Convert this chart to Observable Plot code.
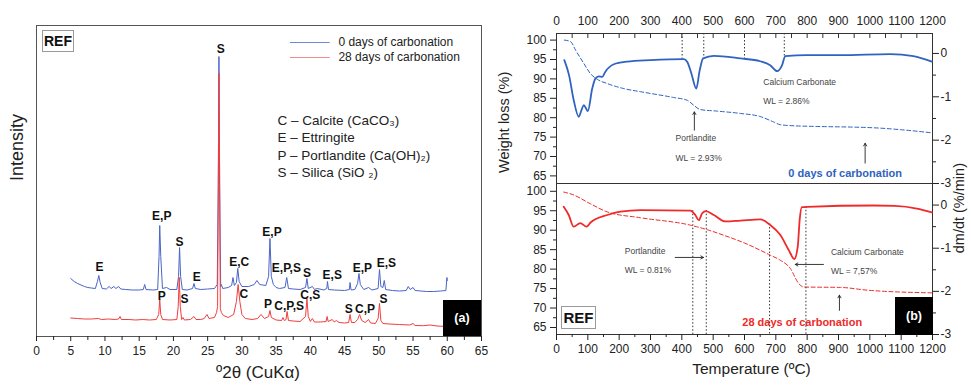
<!DOCTYPE html>
<html><head><meta charset="utf-8">
<script src="https://cdn.jsdelivr.net/npm/d3@7"></script>
<script src="https://cdn.jsdelivr.net/npm/@observablehq/plot@0.6"></script>
<style>
body{margin:0;background:#fff;font-family:"Liberation Sans",Arial,sans-serif;}
#wrap{position:relative;width:971px;height:387px;overflow:hidden;background:#fff}
#wrap svg{position:absolute;overflow:visible}
.ref{position:absolute;border:1.3px solid #9a9a9a;background:#fff;font-weight:bold;color:#111;display:flex;align-items:center;justify-content:center;box-sizing:border-box}
.tag{position:absolute;background:#000;color:#fff;font-weight:bold;font-size:12.5px;display:flex;align-items:center;justify-content:center}
</style></head><body><div id="wrap"></div>
<script>
// ---------- XRD (panel a) ----------
const xrd0 = [[5,58],[5.5,55],[6,53],[6.5,51.5],[7,50],[7.5,49],[8,48.5],[8.6,48],[8.9,55],[9.1,61],[9.3,54],[9.6,48],[10.2,47.5],[10.6,50],[10.9,48],[11.3,50],[11.6,48],[12,50],[12.3,47.5],[13,47],[14,46.5],[15,46.5],[15.6,47],[15.8,52],[16,47],[17,46.5],[17.7,47],[17.9,80],[18,111],[18.15,80],[18.4,48],[19,49],[19.5,47],[20.5,47],[20.75,60],[20.9,89],[21.05,60],[21.3,47],[22,46.5],[22.8,48],[23,53],[23.2,48],[24,47],[25,47.5],[26,48],[26.4,52],[26.55,150],[26.65,280],[26.75,150],[26.9,50],[27,52],[27.2,48],[28,49],[28.5,51],[28.7,59],[28.9,51],[29.2,54],[29.4,68],[29.6,55],[30,50],[31,50],[31.8,52],[32.2,56],[32.6,52],[33.5,51],[33.9,60],[34.1,98],[34.3,60],[34.6,52],[35,49],[35.5,48],[36.3,49],[36.55,59],[36.8,48],[37.5,47.5],[38.5,47],[39.3,49],[39.5,58],[39.7,48],[40.3,50],[40.6,47],[41,48],[42,46.5],[42.4,48],[42.5,55],[42.65,47],[43.5,46.5],[45,46],[45.7,47],[45.8,54],[45.95,46.5],[46.5,47],[46.9,53],[47.1,63],[47.3,52],[47.8,47],[48.5,49],[49,46.5],[49.9,48],[50.1,67],[50.3,50],[50.6,49],[50.8,56],[51,47],[52,46],[53,45.5],[54,46],[54.3,50],[54.6,47],[55,49],[55.3,46],[57,45],[58,45],[59,45.5],[59.8,46],[59.95,59],[60,56]];
const xrd28 = [[5,18.5],[6,18],[7,17.5],[8,17.5],[9,18],[9.5,17],[10.5,17.5],[11.5,17],[12,17.5],[12.2,20],[12.4,17],[13.5,17],[14.5,16.5],[15.5,17],[16.5,16.5],[17.5,17],[17.85,22],[18,37],[18.15,22],[18.4,17],[19.5,16.5],[20.5,17],[20.7,30],[20.85,59],[21,30],[21.2,17],[21.4,19],[21.6,16.5],[22.5,17],[23,20],[23.3,17],[24,17],[24.5,18],[24.9,22],[25.2,18],[26,19],[26.3,24],[26.45,30],[26.6,200],[26.65,263],[26.72,200],[26.85,28],[27,24],[27.3,21],[28,19],[28.8,22],[29.2,35],[29.45,52],[29.7,35],[30,22],[30.5,18],[31.5,17],[32.3,18],[32.8,22],[33.3,18],[33.9,20],[34.1,26],[34.3,19],[35,16.5],[35.8,16],[36,19],[36.2,16],[36.45,17],[36.6,25],[36.8,16],[37.5,15.5],[38.5,15],[39.3,20],[39.5,38],[39.7,20],[40,15],[40.3,18],[40.6,14.5],[41.5,14.5],[42.3,15],[42.45,20],[42.6,15],[43.2,17],[43.5,14.5],[43.8,16],[44.2,14],[45,13.5],[45.6,14],[45.8,22],[46,14],[46.5,14],[46.9,17],[47.2,22],[47.5,16],[48,14],[48.5,17],[48.8,13.5],[49.5,13],[49.9,18],[50.1,33],[50.3,16],[50.6,13],[51.5,12.5],[53,12],[54.5,11.5],[55,13],[55.3,11],[56.5,10.8],[57.5,11.5],[58.5,10.5],[60,10]];
const peaks0 = [[9.2,69,"E"],[18.3,120,"E,P"],[20.9,94,"S"],[23.4,59,"E"],[26.9,287,"S"],[29.6,74,"E,C"],[34.4,104,"E,P"],[36.5,68,"E,P,S"],[39.5,63,"S"],[43.2,61,"E,S"],[47.6,68,"E,P"],[51.1,73,"E,S"]];
const peaks28 = [[18.3,40,"P"],[21.6,37,"S"],[30.3,42,"C"],[33.8,32,"P"],[36.9,30,"C,P,S"],[40.0,41,"C,S"],[45.6,27,"S"],[48.0,27,"C,P"],[50.7,37,"S"]];
const seriesNames = ["0 days of carbonation","28 days of carbonation"];
const phases = ["C – Calcite (CaCO₃)","E – Ettringite","P – Portlandite (Ca(OH)₂)","S – Silica (SiO ₂)"];
const xTicksA = d3.range(0,66,5);

// ---------- TGA (panel b) ----------
const tg0 = [[25,100],[45,99.6],[61,97.4],[87,94],[108,91.4],[130,89.9],[162,88.8],[215,87.5],[268,86.7],[374,85.2],[417,84.5],[438,83.2],[459,82.1],[512,81.7],[587,81.1],[650,80.3],[693,78.9],[714,78.2],[760,77.9],[800,77.8],[1012,77.4],[1100,76.9],[1198,76.1]];
const dtg0 = [[25,-0.155],[40,-0.5],[55,-1.08],[71,-1.46],[80,-1.3],[87,-1.19],[93,-1.25],[100,-1.33],[114,-0.81],[124,-0.58],[135,-0.53],[146,-0.54],[156,-0.42],[183,-0.25],[225,-0.19],[300,-0.155],[406,-0.13],[417,-0.19],[430,-0.45],[446,-0.81],[457,-0.39],[468,-0.115],[502,-0.055],[587,-0.115],[650,-0.18],[682,-0.27],[704,-0.41],[720,-0.27],[730,-0.06],[800,-0.04],[906,-0.04],[1065,-0.016],[1139,-0.06],[1198,-0.19]];
const tg28 = [[23,99.8],[50,99.2],[108,96.8],[162,94.7],[268,93.2],[427,91.3],[486,90],[534,88.7],[600,86.7],[682,83.6],[714,82.3],[746,80.2],[773,76.3],[789,75.4],[906,75.3],[991,74.6],[1198,73.9]];
const dtg28 = [[23,-0.04],[39,-0.23],[55,-0.5],[76,-0.42],[96,-0.5],[108,-0.41],[162,-0.23],[204,-0.15],[268,-0.115],[427,-0.13],[443,-0.23],[454,-0.35],[465,-0.19],[477,-0.14],[502,-0.23],[539,-0.38],[587,-0.36],[650,-0.33],[682,-0.46],[714,-0.69],[741,-1.04],[759,-1.25],[770,-0.96],[776,-0.35],[783,-0.05],[800,-0.04],[1012,-0.01],[1080,-0.02],[1150,-0.08],[1198,-0.17]];
const markers0 = [[401,-0.13],[470,-0.1],[600,-0.12],[727,-0.08]];
const markers28 = [[435,-0.13],[478,-0.13],[680,-0.44],[796,-0.04]];
const notes0 = [[660,89.2,"Calcium Carbonate"],[660,84.3,"WL = 2.86%"],[380,74.6,"Portlandite"],[380,69.5,"WL = 2.93%"]];
const notes28 = [[218,84.6,"Portlandite"],[218,79.7,"WL = 0.81%"],[876,84.4,"Calcium Carbonate"],[876,79.5,"WL = 7,57%"]];
const arrows0 = [[440,76.8,440,81.5],[985,68.3,985,73.4]];
const arrows28 = [[379,83.0,469,83.0],[852,81.2,762,81.2],[903,69.4,903,73.3]];
const tTicks = d3.range(0,1201,100);
const wlTicks = d3.range(65,101,5);
const dtgTicks = [-3,-2,-1,0];

const blueX="#4a64c8", redX="#f03e3e", blueT="#2f63c0", redT="#ee2a2a";
const P = a => a.map(([x,y,s]) => ({x,y,s}));
const fmt = d => String(d);
const base = {fontFamily:"Liberation Sans, Arial, sans-serif", fontSize:"12px", background:"transparent", overflow:"visible", color:"#222"};
const wrap = document.getElementById("wrap");
function place(svg, left, top){svg.style.left=left+"px";svg.style.top=top+"px";wrap.appendChild(svg);}

// Panel (a)
place(Plot.plot({
  width:490,height:387,marginLeft:36,marginRight:9,marginTop:25,marginBottom:51,style:base,
  x:{domain:[0,65]}, y:{domain:[0,311],axis:null},
  marks:[
    Plot.frame({stroke:"#555"}),
    Plot.line(P(xrd0),{x:"x",y:"y",stroke:blueX,strokeWidth:1}),
    Plot.line(P(xrd28),{x:"x",y:"y",stroke:redX,strokeWidth:1}),
    Plot.text(P(peaks0),{x:"x",y:"y",text:"s",fontWeight:"bold",fontSize:12,fill:"#111"}),
    Plot.text(P(peaks28),{x:"x",y:"y",text:"s",fontWeight:"bold",fontSize:12,fill:"#111"}),
    Plot.ruleY([294],{y:d=>d,x1:37.1,x2:42.9,stroke:"#7087d8",strokeWidth:1.2}),
    Plot.ruleY([279],{y:d=>d,x1:37.1,x2:42.9,stroke:"#f48c8c",strokeWidth:1.2}),
    Plot.text([[44.1,294,seriesNames[0]],[44.1,279,seriesNames[1]]].map(([x,y,s])=>({x,y,s})),{x:"x",y:"y",text:"s",textAnchor:"start",fontSize:12,fill:"#222"}),
    Plot.text(phases.map((s,i)=>({x:35.2,y:[216,198.7,181,163.7][i],s})),{x:"x",y:"y",text:"s",textAnchor:"start",fontSize:13.5,fill:"#222"}),
    Plot.axisX({ticks:xTicksA,tickSize:5,tickPadding:5,label:null,tickFormat:fmt}),
    Plot.axisX({ticks:d3.range(2.5,65,5),tickSize:4,label:null,tickFormat:()=>""}),
    Plot.text(["º2θ (CuKα)"],{text:d=>d,frameAnchor:"bottom",dy:41,dx:-1,fontSize:17}),
    Plot.text(["Intensity"],{text:d=>d,frameAnchor:"left",dx:-19,rotate:-90,fontSize:18})
  ]
}),0,0);

// Panel (b) top: TG (left axis)
const topDom=[63.04,101.7];
place(Plot.plot({
  width:481,height:183,marginLeft:66,marginRight:39,marginTop:33,marginBottom:0,style:base,
  x:{domain:[0,1200]}, y:{domain:topDom},
  marks:[
    Plot.frame({stroke:"#333"}),
    Plot.line(P(tg0),{x:"x",y:"y",stroke:blueT,strokeWidth:1,strokeDasharray:"4,2.5",curve:"monotone-x"}),
    Plot.axisY({ticks:wlTicks,tickSize:6,tickPadding:4,label:null,tickFormat:fmt}),
    Plot.axisY({ticks:d3.range(67.5,100,5),tickSize:3,label:null,tickFormat:()=>""}),
    Plot.axisX({anchor:"top",ticks:tTicks,tickSize:0,tickPadding:9,label:null,tickFormat:fmt}),
    Plot.ruleX(d3.range(50,1200,50),{x:d=>d,y1:topDom[1],y2:topDom[1]-1.3,stroke:"#333"}),
    Plot.arrow(arrows0.map(([x1,y1,x2,y2])=>({x1,y1,x2,y2})),{x1:"x1",y1:"y1",x2:"x2",y2:"y2",stroke:"#222",strokeWidth:0.9,headLength:5}),
    Plot.text(P(notes0),{x:"x",y:"y",text:"s",textAnchor:"start",fontSize:8.5,fill:"#444"}),
    Plot.text([{x:740,y:65.6,s:seriesNames[0]}],{x:"x",y:"y",text:"s",textAnchor:"start",fontSize:11,fontWeight:"bold",fill:blueT}),
    Plot.text(["Weight loss (%)"],{text:d=>d,frameAnchor:"bottom-left",dx:-48,dy:-10.5,rotate:-90,fontSize:14.5})
  ]
}),490,0);

// Panel (b) top: DTG (right axis)
const topDomR=[-3,0.46];
place(Plot.plot({
  width:481,height:183,marginLeft:66,marginRight:39,marginTop:33,marginBottom:0,style:base,
  x:{domain:[0,1200],axis:null}, y:{domain:topDomR},
  marks:[
    Plot.ruleX(P(markers0),{x:"x",y1:topDomR[1],y2:"y",stroke:"#333",strokeDasharray:"1.5,2"}),
    Plot.line(P(dtg0),{x:"x",y:"y",stroke:blueT,strokeWidth:1.8,curve:"monotone-x"}),
    Plot.axisY({anchor:"right",ticks:dtgTicks,tickSize:6,tickPadding:2,label:null,tickFormat:fmt}),
    Plot.axisY({anchor:"right",ticks:[-2.5,-1.5,-0.5],tickSize:3,label:null,tickFormat:()=>""}),
    Plot.text(["dm/dt (%/min)"],{text:d=>d,frameAnchor:"bottom-right",dx:31,dy:-20.5,rotate:-90,fontSize:14.5})
  ]
}),490,0);

// Panel (b) bottom: TG (left axis)
const botDom=[63.2,102];
place(Plot.plot({
  width:481,height:204,marginLeft:66,marginRight:39,marginTop:0,marginBottom:53,style:base,
  x:{domain:[0,1200]}, y:{domain:botDom},
  marks:[
    Plot.frame({stroke:"#333"}),
    Plot.line(P(tg28),{x:"x",y:"y",stroke:redT,strokeWidth:1,strokeDasharray:"4,2.5",curve:"monotone-x"}),
    Plot.axisY({ticks:wlTicks,tickSize:6,tickPadding:4,label:null,tickFormat:fmt}),
    Plot.axisY({ticks:d3.range(67.5,100,5),tickSize:3,label:null,tickFormat:()=>""}),
    Plot.axisX({ticks:tTicks,tickSize:6,tickPadding:4,label:null,tickFormat:fmt}),
    Plot.axisX({ticks:d3.range(50,1200,100),tickSize:3,label:null,tickFormat:()=>""}),
    Plot.arrow(arrows28.map(([x1,y1,x2,y2])=>({x1,y1,x2,y2})),{x1:"x1",y1:"y1",x2:"x2",y2:"y2",stroke:"#222",strokeWidth:0.9,headLength:5}),
    Plot.text(P(notes28),{x:"x",y:"y",text:"s",textAnchor:"start",fontSize:8.5,fill:"#444"}),
    Plot.text([{x:593,y:66.4,s:seriesNames[1]}],{x:"x",y:"y",text:"s",textAnchor:"start",fontSize:11,fontWeight:"bold",fill:redT}),
    Plot.text(["Temperature (ºC)"],{text:d=>d,frameAnchor:"bottom",dx:7,dy:39,fontSize:15.5})
  ]
}),490,183);

// Panel (b) bottom: DTG (right axis)
const botDomR=[-3,0.5];
place(Plot.plot({
  width:481,height:204,marginLeft:66,marginRight:39,marginTop:0,marginBottom:53,style:base,
  x:{domain:[0,1200],axis:null}, y:{domain:botDomR},
  marks:[
    Plot.ruleX(P(markers28),{x:"x",y1:"y",y2:botDomR[0],stroke:"#333",strokeDasharray:"1.5,2"}),
    Plot.line(P(dtg28),{x:"x",y:"y",stroke:redT,strokeWidth:1.8,curve:"monotone-x"}),
    Plot.axisY({anchor:"right",ticks:dtgTicks,tickSize:6,tickPadding:2,label:null,tickFormat:fmt}),
    Plot.axisY({anchor:"right",ticks:[-2.5,-1.5,-0.5],tickSize:3,label:null,tickFormat:()=>""})
  ]
}),490,183);

// Boxes
function box(cls, txt, l, t, w, h, fs){const d=document.createElement("div");d.className=cls;d.textContent=txt;Object.assign(d.style,{left:l+"px",top:t+"px",width:w+"px",height:h+"px"});if(fs)d.style.fontSize=fs+"px";wrap.appendChild(d);}
box("ref","REF",42,30,32,22,14);
box("ref","REF",561,306,35,23,15);
box("tag","(a)",443,300,38,36);
box("tag","(b)",895,297,38,38);
</script></body></html>
